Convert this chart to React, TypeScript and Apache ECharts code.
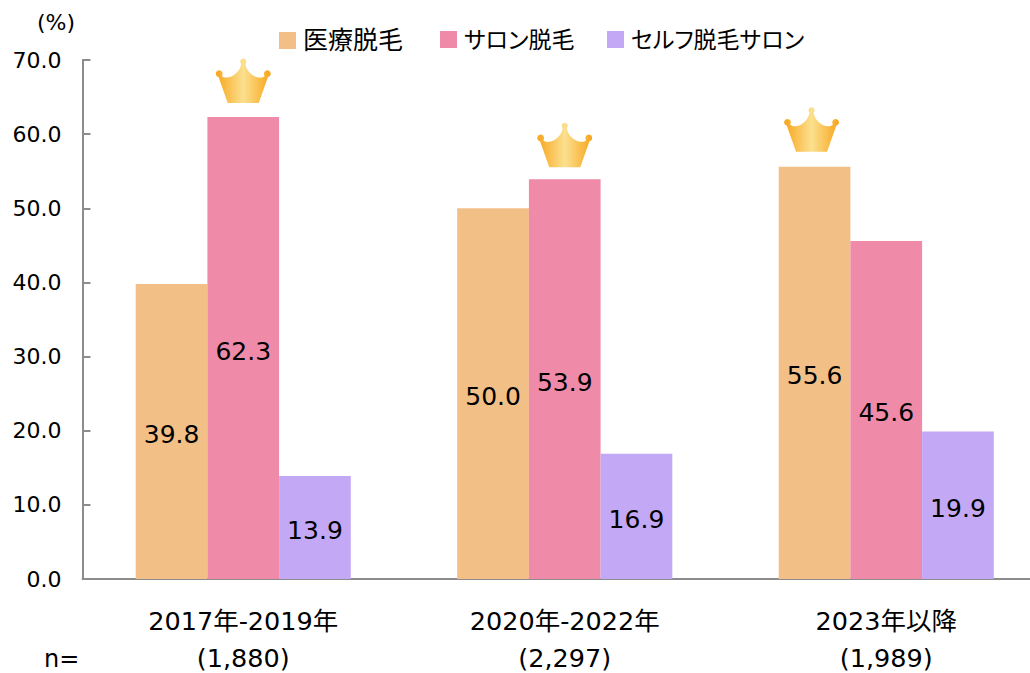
import React, { useEffect, useRef } from "react";
import * as echarts from "echarts";

const periods = ["2017年-2019年", "2020年-2022年", "2023年以降"];
const sampleSizes = ["(1,880)", "(2,297)", "(1,989)"];
const seriesNames = ["医療脱毛", "サロン脱毛", "セルフ脱毛サロン"];
const medical = [39.8, 50.0, 55.6];
const salon = [62.3, 53.9, 45.6];
const selfSalon = [13.9, 16.9, 19.9];
const yTicks = [0, 10, 20, 30, 40, 50, 60, 70];
// winner of each period: [category index, value, index of winning series]
const crowns = [
  [0, 62.3, 1],
  [1, 53.9, 1],
  [2, 55.6, 0],
];

const FONT = '"DejaVu Sans", "Noto Sans CJK JP", sans-serif';
const COLORS = ["#F2BF87", "#EF8BA9", "#C3A8F5"];
const BAR_W = 71.7;
const CROWN_PATH =
  "M25 3.5a3 3 0 1 1 5 2.2C31 13 38 20 46 19.5c1.5-.2 2.6-.9 3.4-1.7a3.4 3.4 0 1 1 3.3 1.2L43.5 45H12.5L3.3 19a3.4 3.4 0 1 1 3.3-1.2C7.4 18.6 8.5 19.3 10 19.5 18 20 25 13 26 5.7a3 3 0 0 1-1-2.2Z";
const crownNudge = [
  [0, 14],
  [0, 12],
  [-3, 15],
];

export default function App() {
  const ref = useRef<HTMLDivElement>(null);
  useEffect(() => {
    const chart = echarts.init(ref.current!, undefined, { renderer: "svg" });
    const label = {
      show: true,
      position: "inside",
      offset: [0, 3],
      color: "#000",
      fontFamily: FONT,
      fontSize: 25,
      formatter: (p: any) => Number(p.value).toFixed(1),
    };
    const legendAt = (name: string, left: number, fontSize: number) => ({
      data: [name],
      left,
      top: 28,
      icon: "rect",
      itemWidth: 17,
      itemHeight: 17,
      itemGap: 0,
      selectedMode: false,
      padding: 0,
      textStyle: { fontFamily: FONT, fontSize, color: "#000", padding: [0, 0, 0, 2] },
    });
    chart.setOption({
      animation: false,
      backgroundColor: "#fff",
      legend: [
        legendAt(seriesNames[0], 279, 25),
        legendAt(seriesNames[1], 440, 23),
        legendAt(seriesNames[2], 607, 23),
      ],
      grid: { left: 82.5, top: 60, width: 964.5, height: 519, containLabel: false, outerBoundsMode: "none" },
      xAxis: {
        type: "category",
        data: periods,
        axisLine: { lineStyle: { color: "#8C8C8C", width: 2 } },
        axisTick: { show: false },
        axisLabel: {
          interval: 0,
          margin: 18,
          formatter: (v: string) => `{period|${v}}\n{size|${sampleSizes[periods.indexOf(v)]}}`,
          rich: {
            period: { color: "#000", fontFamily: FONT, fontSize: 25.5, lineHeight: 48 },
            size: { color: "#000", fontFamily: FONT, fontSize: 25.5, lineHeight: 26 },
          },
        },
      },
      yAxis: {
        type: "value",
        min: yTicks[0],
        max: yTicks[yTicks.length - 1],
        interval: yTicks[1] - yTicks[0],
        splitLine: { show: false },
        axisLine: { show: true, lineStyle: { color: "#8C8C8C", width: 2 } },
        axisTick: { show: true, inside: true, length: 8, lineStyle: { color: "#8C8C8C", width: 2 } },
        axisLabel: {
          color: "#000",
          fontFamily: FONT,
          fontSize: 22,
          margin: 21,
          formatter: (v: number) => v.toFixed(1),
        },
      },
      graphic: [
        { type: "text", left: 37, top: 11, style: { text: "(%)", fontFamily: FONT, fontSize: 22, fill: "#000" } },
        { type: "text", left: 44, top: 647, style: { text: "n=", fontFamily: FONT, fontSize: 24, fill: "#000" } },
      ],
      series: [
        ...[medical, salon, selfSalon].map((data, i) => ({
          type: "bar",
          name: seriesNames[i],
          data,
          barWidth: BAR_W,
          barGap: 0,
          itemStyle: { color: COLORS[i] },
          label,
        })),
        {
          type: "custom",
          silent: true,
          clip: false,
          data: crowns,
          encode: { x: 0, y: 1 },
          z: 5,
          renderItem: (params: any, api: any) => {
            const pt = api.coord([api.value(0), api.value(1)]);
            const [dx, gap] = crownNudge[params.dataIndex];
            const cx = pt[0] + (api.value(2) - 1) * BAR_W + dx;
            return {
              type: "path",
              x: cx - 28,
              y: pt[1] - gap - 45,
              shape: { pathData: CROWN_PATH },
              style: {
                fill: {
                  type: "linear",
                  x: 0,
                  y: 0,
                  x2: 1,
                  y2: 0,
                  colorStops: [
                    { offset: 0, color: "#F8A51C" },
                    { offset: 0.5, color: "#FBE08F" },
                    { offset: 1, color: "#F8A51C" },
                  ],
                },
              },
            };
          },
        },
      ],
    });
    return () => chart.dispose();
  }, []);
  return (
    <>
      <style>{`html,body{margin:0;padding:0;background:#fff;overflow:hidden} svg text{font-feature-settings:"palt"}`}</style>
      <div ref={ref} style={{ width: 1030, height: 673 }} />
    </>
  );
}
